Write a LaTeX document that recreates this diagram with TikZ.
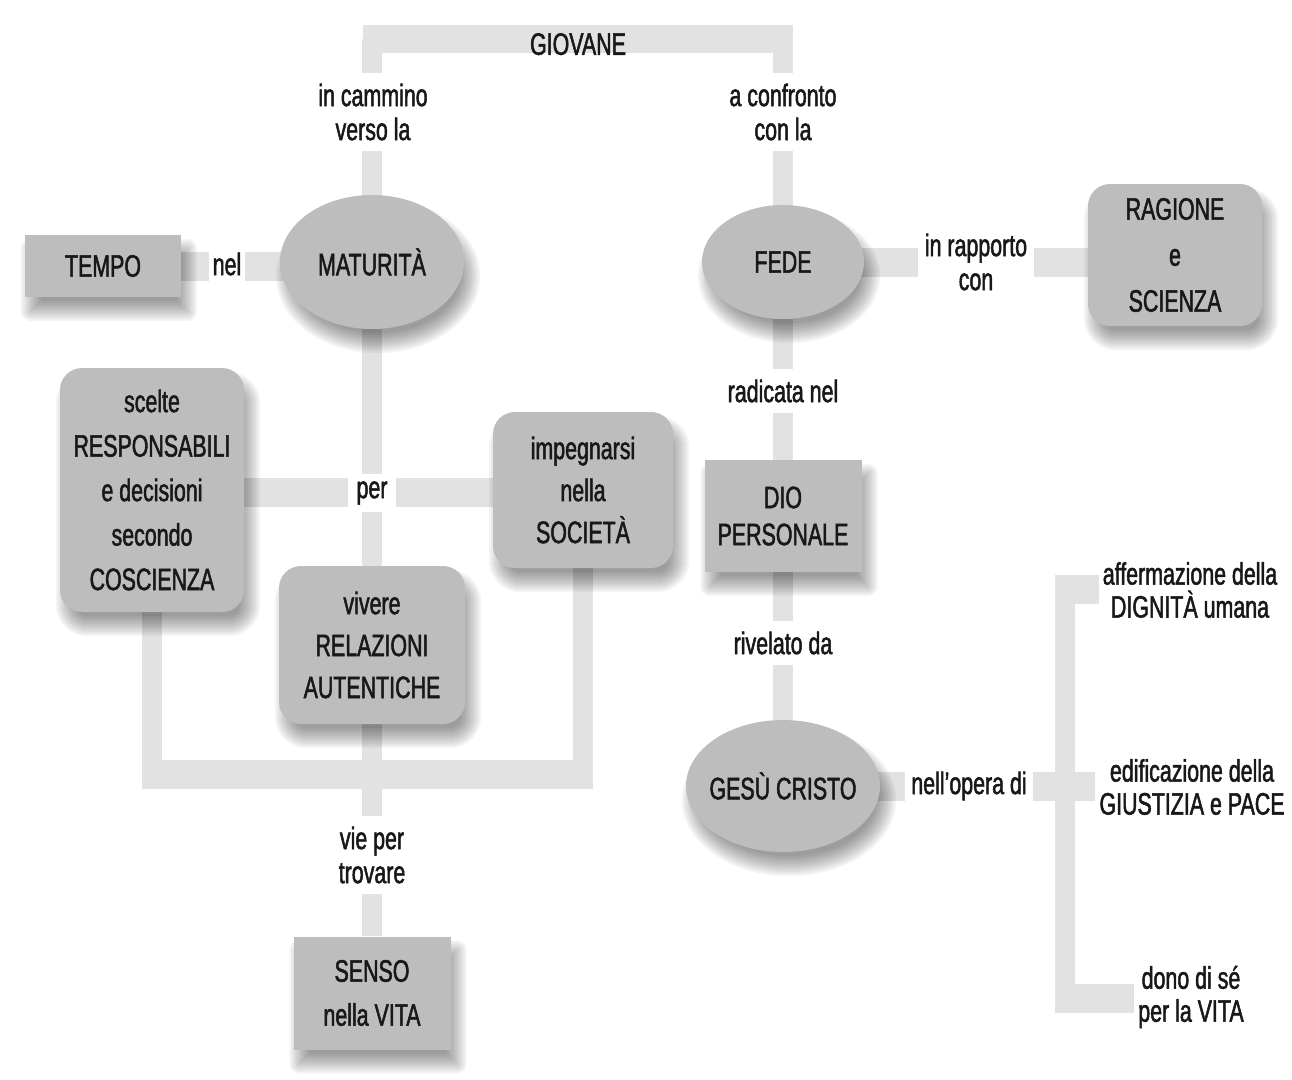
\documentclass[tikz,border=0pt]{standalone}
\usepackage{fontspec}
\setmainfont{Liberation Sans}[FakeStretch=0.69, FakeBold=1.6]
\usetikzlibrary{shapes.geometric,calc}
\definecolor{nodegray}{RGB}{189,189,189}
\definecolor{bargray}{RGB}{226,226,226}
\definecolor{inkgray}{RGB}{24,24,24}
\pgfdeclarelayer{bars}
\pgfdeclarelayer{shades}
\pgfsetlayers{bars,shades,main}
\tikzset{
  every node/.style={text=inkgray},
  boxnode/.style={rectangle, fill=nodegray, align=center,
      inner sep=0pt, font=\fontsize{31}{42}\selectfont},
  roundbox/.style={boxnode, rounded corners=22pt},
  ovalnode/.style={ellipse, fill=nodegray, align=center,
      inner sep=-25pt, font=\fontsize{31}{42}\selectfont},
  barnode/.style={rectangle, fill=bargray, inner sep=0pt,
      font=\fontsize{31}{42}\selectfont},
  lbl/.style={fill=white, align=center, inner xsep=7pt, inner ysep=11pt,
      font=\fontsize{31}{34}\selectfont},
  sidetext/.style={align=center, inner sep=4pt, font=\fontsize{31}{33}\selectfont},
  hbar/.style={draw=bargray, line width=29pt},
  vbar/.style={draw=bargray, line width=20pt},
  shadelayer/.style={black, opacity=0.042},
}
% soft drop shadow of a box node: stacked, growing translucent copies
\newcommand\boxshade[2]{%
  \foreach \r in {-10,-8,...,10}{%
    \pgfmathsetmacro\rc{max(#2+\r,0.1)}%
    \fill[shadelayer, rounded corners=\rc pt]
      ($(#1.south west)+(6-\r,14+\r)$) rectangle ($(#1.north east)+(6+\r,14-\r)$);
  }}
% soft drop shadow of an oval node
\newcommand\ovalshade[1]{%
  \foreach \r in {-10,-8,...,10}{%
    \fill[shadelayer] let \p1=(#1.east), \p2=(#1.north), \p3=(#1.center) in
      ($(\p3)+(6,14)$) ellipse [x radius={\x1-\x3+(\r)*1pt}, y radius={\y2-\y3+(\r)*1pt}];
  }}
\begin{document}
\begin{tikzpicture}[x=1pt, y=-1pt]
\useasboundingbox (0,0) rectangle (1292,1079);

% --- concept nodes ---
\node[barnode, minimum width=430pt, minimum height=28pt] (giovane) at (578,39)
  {\raisebox{-5pt}[\height][0pt]{GIOVANE}};
\node[boxnode, minimum width=156pt, minimum height=62pt] (tempo) at (103,266) {TEMPO};
\node[ovalnode, minimum width=184pt, minimum height=134pt] (maturita) at (372,262) {MATURITÀ};
\node[ovalnode, minimum width=162pt, minimum height=114pt] (fede) at (783,262) {FEDE};
\node[roundbox, minimum width=174pt, minimum height=142pt,
      font=\fontsize{31}{46}\selectfont] (ragione) at (1175,255) {RAGIONE\\e\\SCIENZA};
\node[roundbox, minimum width=184pt, minimum height=244pt,
      font=\fontsize{31}{44.5}\selectfont] (scelte) at (152,490)
  {scelte\\RESPONSABILI\\e decisioni\\secondo\\COSCIENZA};
\node[roundbox, minimum width=180pt, minimum height=156pt] (impeg) at (583,490)
  {impegnarsi\\nella\\SOCIETÀ};
\node[roundbox, minimum width=186pt, minimum height=158pt] (vivere) at (372,645)
  {vivere\\RELAZIONI\\AUTENTICHE};
\node[boxnode, minimum width=157pt, minimum height=112pt,
      font=\fontsize{31}{37}\selectfont] (dio) at (783,516) {DIO\\PERSONALE};
\node[boxnode, minimum width=157pt, minimum height=113pt,
      font=\fontsize{31}{44}\selectfont] (senso) at (372,993) {SENSO\\nella VITA};
\node[ovalnode, minimum width=194pt, minimum height=132pt] (gesu) at (783,786) {GESÙ CRISTO};

% --- outcomes of the work of Christ ---
\node[sidetext] (aff)  at (1190,590) {affermazione della\\DIGNITÀ umana};
\node[sidetext] (edif) at (1192,787) {edificazione della\\GIUSTIZIA e PACE};
\node[sidetext] (dono) at (1191,997) {dono di sé\\per la VITA};

% --- bracket and junction points ---
\coordinate (bktop) at (1065,575);
\coordinate (bkbot) at (1065,1013);
\coordinate (br1) at (1055,589);
\coordinate (br3) at (1055,998);
\coordinate (perpt) at (372,492);
\coordinate (ujoin) at (372,774);

% --- drop shadows ---
\begin{pgfonlayer}{shades}
  \boxshade{tempo}{0}
  \boxshade{dio}{0}
  \boxshade{senso}{0}
  \boxshade{ragione}{22}
  \boxshade{scelte}{22}
  \boxshade{impeg}{22}
  \boxshade{vivere}{22}
  \ovalshade{maturita}
  \ovalshade{fede}
  \ovalshade{gesu}
\end{pgfonlayer}

% --- connector bars ---
\begin{pgfonlayer}{bars}
  \draw[vbar] (maturita.center |- giovane.center) -- (maturita.center);
  \draw[vbar] (fede.center |- giovane.center) -- (fede.center);
  \draw[hbar] (tempo.center) -- (tempo.center -| maturita.center);
  \draw[hbar] (fede.center) -- (fede.center -| ragione.center);
  \draw[vbar] (fede) -- (dio);
  \draw[vbar] (dio) -- (gesu);
  \draw[vbar] (maturita) -- (vivere);
  \draw[hbar] (scelte.center |- perpt) -- (impeg.center |- perpt);
  \draw[vbar] (scelte.center) -- (scelte.center |- ujoin);
  \draw[vbar] (impeg.center) -- (impeg.center |- ujoin);
  \draw[hbar] ([xshift=-10pt]scelte.center |- ujoin) -- ([xshift=10pt]impeg.center |- ujoin);
  \draw[vbar] (vivere) -- (senso);
  \draw[hbar] (gesu.center) -- (gesu.center -| edif.west);
  \draw[vbar] (bktop) -- (bkbot);
  \draw[hbar] (br1) -- (br1 -| aff.west);
  \draw[hbar] (br3) -- (br3 -| dono.west);
\end{pgfonlayer}

% --- connector labels ---
\node[lbl] (lcammino)  at (373,112) {in cammino\\verso la};
\node[lbl] (lconfr)    at (783,112) {a confronto\\con la};
\node[lbl, inner xsep=4pt] (lnel) at (227,264) {nel};
\node[lbl] (lrapporto) at (976,262) {in rapporto\\con};
\node[lbl] (lradicata) at (783,391) {radicata nel};
\node[lbl, inner xsep=9pt, inner ysep=7pt] (lper) at (372,493) {per};
\node[lbl] (lrivelato) at (783,643) {rivelato da};
\node[lbl] (lvie)      at (372,855) {vie per\\trovare};
\node[lbl, inner xsep=6pt] (lopera) at (969,786) {nell’opera di};
\end{tikzpicture}
\end{document}
